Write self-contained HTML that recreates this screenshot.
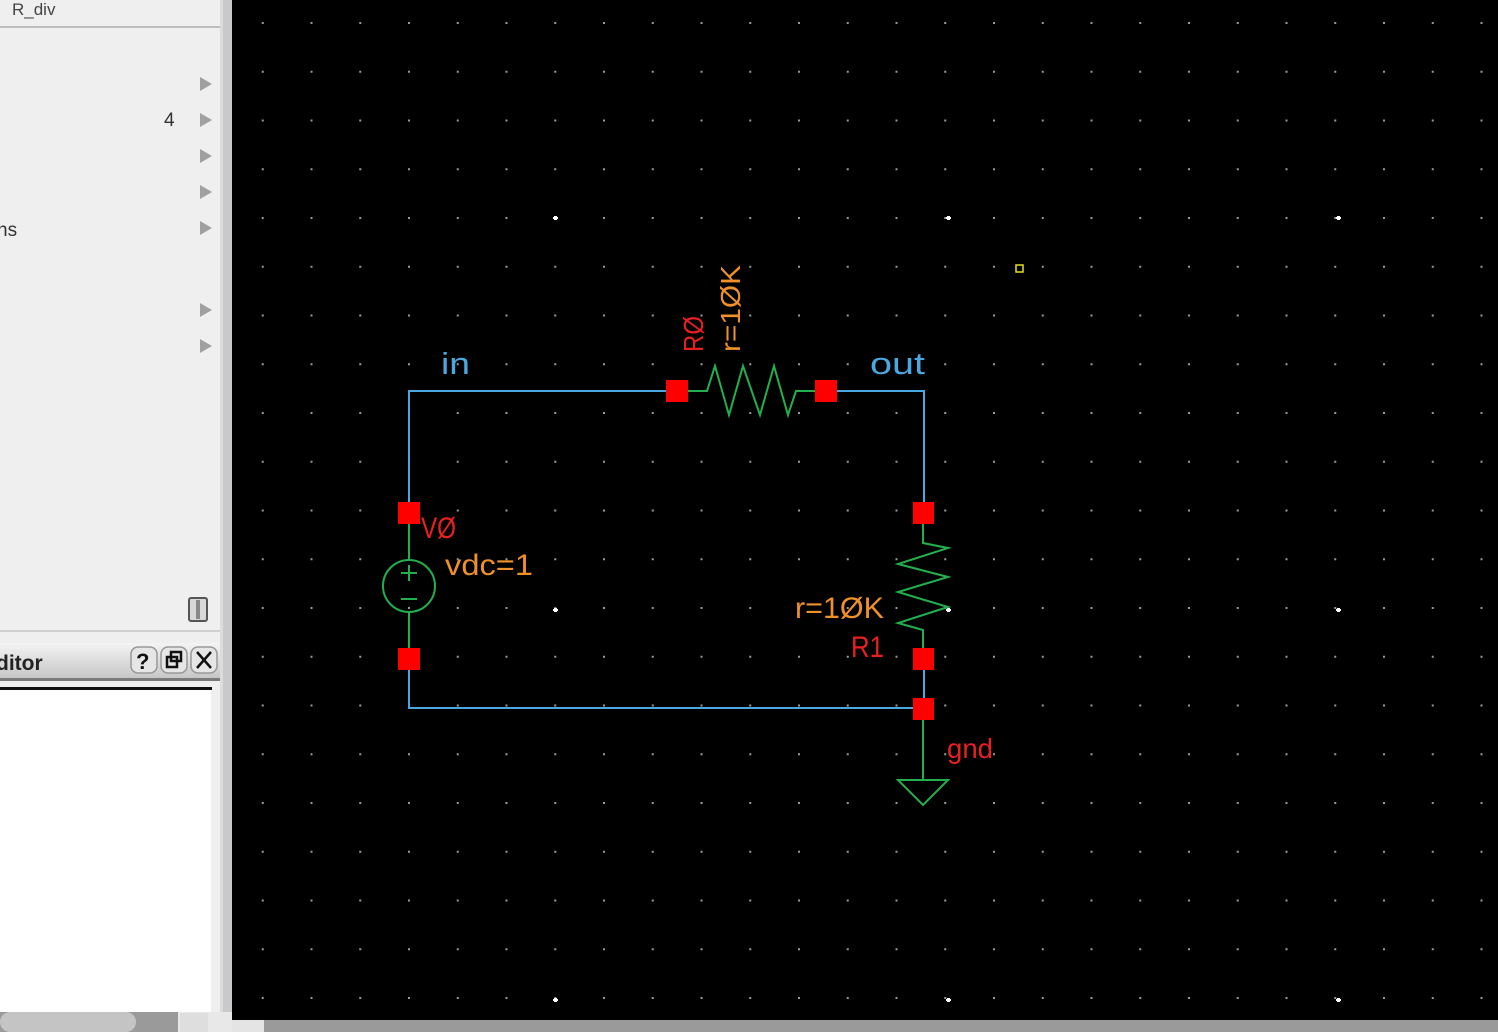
<!DOCTYPE html>
<html><head><meta charset="utf-8">
<style>
html,body{margin:0;padding:0;width:1498px;height:1032px;overflow:hidden;background:#000;}
svg{display:block}
text{font-family:"Liberation Sans","DejaVu Sans",sans-serif;}
</style></head><body>
<svg width="1498" height="1032" xmlns="http://www.w3.org/2000/svg">
<defs>
<pattern id="dots" x="18" y="22" width="48.75" height="48.75" patternUnits="userSpaceOnUse">
<rect x="0" y="0" width="2" height="2" fill="#9a9a9a"/>
</pattern>
</defs>
<rect x="232" y="0" width="1266" height="1032" fill="#000"/>
<rect x="232" y="0" width="1266" height="1020" fill="url(#dots)"/>
<g fill="#fff">
<rect x="553" y="217" width="5" height="2"/><rect x="554" y="216" width="3" height="4"/>
<rect x="946" y="217" width="5" height="2"/><rect x="947" y="216" width="3" height="4"/>
<rect x="1336" y="217" width="5" height="2"/><rect x="1337" y="216" width="3" height="4"/>
<rect x="553" y="609" width="5" height="2"/><rect x="554" y="608" width="3" height="4"/>
<rect x="946" y="609" width="5" height="2"/><rect x="947" y="608" width="3" height="4"/>
<rect x="1336" y="609" width="5" height="2"/><rect x="1337" y="608" width="3" height="4"/>
<rect x="553" y="999" width="5" height="2"/><rect x="554" y="998" width="3" height="4"/>
<rect x="946" y="999" width="5" height="2"/><rect x="947" y="998" width="3" height="4"/>
<rect x="1336" y="999" width="5" height="2"/><rect x="1337" y="998" width="3" height="4"/>
</g>
<rect x="1016" y="265" width="7" height="7" fill="none" stroke="#e8e020" stroke-width="1.5"/>

<g stroke="#4aa8e0" stroke-width="2" fill="none">
<polyline points="409,512 409,391 677,391"/>
<polyline points="826,391 924,391 924,512"/>
<polyline points="409,659 409,708 923,708"/>
<polyline points="924,659 924,708"/>
</g>
<g stroke="#22b04e" stroke-width="2" fill="none">
<polyline points="677,391 707,391 715,366 729,415 743,366 760,415 774,366 788,415 796,391 826,391"/>
<polyline points="923,512 923,543 948,548 898,564 948,577 898,592 948,607 898,623 923,630 923,659"/>
<line x1="409" y1="512" x2="409" y2="560"/>
<line x1="409" y1="613" x2="409" y2="659"/>
<circle cx="409" cy="586" r="26"/>
<line x1="401" y1="573" x2="417" y2="573"/><line x1="409" y1="565" x2="409" y2="581"/>
<line x1="401" y1="599" x2="417" y2="599"/>
<polyline points="923,708 923,780"/>
<polygon points="898,780 948,780 923,805"/>
</g>
<g fill="#ff0000">
<rect x="666" y="380" width="22" height="22"/>
<rect x="815" y="380" width="22" height="22"/>
<rect x="398" y="502" width="22" height="22"/>
<rect x="398" y="648" width="22" height="22"/>
<rect x="913" y="502" width="21" height="22"/>
<rect x="913" y="648" width="21" height="22"/>
<rect x="913" y="698" width="21" height="22"/>
</g>
<text x="441" y="374" font-size="31" fill="#4aa8e0" textLength="29" lengthAdjust="spacingAndGlyphs">in</text>
<text x="870" y="374" font-size="31" fill="#4aa8e0" textLength="55" lengthAdjust="spacingAndGlyphs">out</text>
<text transform="translate(703,352) rotate(-90)" font-size="28" fill="#e82020" textLength="36" lengthAdjust="spacingAndGlyphs">RØ</text>
<text transform="translate(740,352) rotate(-90)" font-size="28" fill="#f0902a" textLength="87" lengthAdjust="spacingAndGlyphs">r=1ØK</text>
<text x="421" y="538" font-size="30" fill="#e82020" textLength="35" lengthAdjust="spacingAndGlyphs">VØ</text>
<text x="445" y="575" font-size="30" fill="#f0902a" textLength="88" lengthAdjust="spacingAndGlyphs">vdc=1</text>
<text x="795" y="618" font-size="30" fill="#f0902a" textLength="89" lengthAdjust="spacingAndGlyphs">r=1ØK</text>
<text x="851" y="657" font-size="30" fill="#e82020" textLength="33" lengthAdjust="spacingAndGlyphs">R1</text>
<text x="947" y="758" font-size="28" fill="#e82020" textLength="46" lengthAdjust="spacingAndGlyphs">gnd</text>

<rect x="232" y="1020" width="1266" height="12" fill="#9a9a9a"/>
<rect x="232" y="1020" width="32" height="12" fill="#e4e4e4"/>

<rect x="0" y="0" width="232" height="1032" fill="#efefef"/>
<rect x="220" y="0" width="3" height="1032" fill="#dcdcdc"/>
<rect x="223" y="0" width="9" height="1032" fill="#c9c9cc"/>
<rect x="0" y="26" width="220" height="2" fill="#bdbdbd"/>
<text x="12" y="15" font-size="17" fill="#444">R_div</text>
<g fill="#a0a0a0">
<polygon points="200,77 212,84 200,91"/>
<polygon points="200,113 212,120 200,127"/>
<polygon points="200,149 212,156 200,163"/>
<polygon points="200,185 212,192 200,199"/>
<polygon points="200,221 212,228 200,235"/>
<polygon points="200,303 212,310 200,317"/>
<polygon points="200,339 212,346 200,353"/>
</g>
<text x="164" y="126" font-size="19" fill="#333">4</text>
<text x="-3" y="236" font-size="19" fill="#333">ns</text>
<rect x="189" y="598" width="18" height="23" rx="2" fill="#d8d8d8" stroke="#555" stroke-width="2"/>
<rect x="196" y="600" width="4" height="19" fill="#888"/>
<rect x="0" y="630" width="220" height="2" fill="#d0d0d0"/>
<defs><linearGradient id="hg" x1="0" y1="0" x2="0" y2="1">
<stop offset="0" stop-color="#f4f4f4"/><stop offset="1" stop-color="#c4c4c4"/></linearGradient></defs>
<rect x="0" y="643" width="220" height="37" fill="url(#hg)"/>
<rect x="0" y="678" width="220" height="3" fill="#7a7a7a"/>
<text x="-4" y="670" font-size="21" font-weight="bold" fill="#222">ditor</text>
<g stroke="#999" stroke-width="1.5" fill="#e6e6e6">
<rect x="131" y="647" width="26" height="26" rx="7"/>
<rect x="161" y="647" width="26" height="26" rx="7"/>
<rect x="191" y="647" width="26" height="26" rx="7"/>
</g>
<text x="136" y="669" font-size="22" font-weight="bold" fill="#111">?</text>
<g stroke="#111" stroke-width="2.5" fill="none">
<rect x="167" y="657" width="10" height="10"/><rect x="171" y="652" width="10" height="9"/>
<line x1="197" y1="652" x2="211" y2="668"/><line x1="211" y1="652" x2="197" y2="668"/>
</g>
<rect x="0" y="687" width="212" height="3" fill="#111"/>
<rect x="0" y="690" width="211" height="322" fill="#fff"/>
<rect x="0" y="1012" width="232" height="20" fill="#e8e8e8"/>
<rect x="0" y="1012" width="178" height="20" fill="#9a9a9a"/>
<rect x="0" y="1012" width="136" height="20" rx="10" fill="#c4c4c4"/>
<rect x="180" y="1013" width="28" height="19" fill="#dedede"/>
</svg>
</body></html>
